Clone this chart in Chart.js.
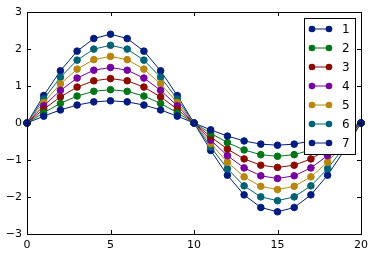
<!DOCTYPE html>
<html>
<head>
<meta charset="utf-8">
<script src="https://cdn.jsdelivr.net/npm/chart.js@4/dist/chart.umd.min.js"></script>
<style>
  html, body { margin: 0; padding: 0; background: #fff; }
  #wrap { width: 374px; height: 256px; }
</style>
</head>
<body>
<div id="wrap"><canvas id="chart"></canvas></div>
<script>
// x positions
var xs = [0,1,2,3,4,5,6,7,8,9,10,11,12,13,14,15,16,17,18,19,20];
// series
var s1 = [0,0.185,0.353,0.485,0.571,0.6,0.571,0.485,0.353,0.185,0,-0.185,-0.353,-0.485,-0.571,-0.6,-0.571,-0.485,-0.353,-0.185,0];
var s2 = [0,0.278,0.529,0.728,0.856,0.9,0.856,0.728,0.529,0.278,0,-0.278,-0.529,-0.728,-0.856,-0.9,-0.856,-0.728,-0.529,-0.278,0];
var s3 = [0,0.371,0.705,0.971,1.141,1.2,1.141,0.971,0.705,0.371,0,-0.371,-0.705,-0.971,-1.141,-1.2,-1.141,-0.971,-0.705,-0.371,0];
var s4 = [0,0.464,0.882,1.214,1.427,1.5,1.427,1.214,0.882,0.464,0,-0.464,-0.882,-1.214,-1.427,-1.5,-1.427,-1.214,-0.882,-0.464,0];
var s5 = [0,0.556,1.058,1.456,1.712,1.8,1.712,1.456,1.058,0.556,0,-0.556,-1.058,-1.456,-1.712,-1.8,-1.712,-1.456,-1.058,-0.556,0];
var s6 = [0,0.649,1.234,1.699,1.997,2.1,1.997,1.699,1.234,0.649,0,-0.649,-1.234,-1.699,-1.997,-2.1,-1.997,-1.699,-1.234,-0.649,0];
var s7 = [0,0.742,1.411,1.942,2.283,2.4,2.283,1.942,1.411,0.742,0,-0.742,-1.411,-1.942,-2.283,-2.4,-2.283,-1.942,-1.411,-0.742,0];
var labels = ['1','2','3','4','5','6','7'];
var colors = ['#001c7f','#017517','#8c0900','#7600a1','#b8860b','#006374','#001c7f'];

var series = [s1,s2,s3,s4,s5,s6,s7];
var FONT = 'DejaVu Sans';

var datasets = series.map(function(vals, i){
  return {
    label: labels[i],
    data: vals.map(function(v, j){ return {x: xs[j], y: v}; }),
    borderColor: colors[i],
    backgroundColor: colors[i],
    pointBackgroundColor: colors[i],
    pointBorderColor: colors[i],
    borderWidth: 1,
    pointRadius: 3.3,
    pointBorderWidth: 1,
    tension: 0,
    clip: false
  };
});

function minus(v){ return String(v).replace('-', '\u2212'); }

// frame, inward ticks on all four sides, legend box
var framePlugin = {
  id: 'frame',
  afterDatasetsDraw: function(chart){
    var ctx = chart.ctx, a = chart.chartArea;
    var sx = chart.scales.x, sy = chart.scales.y;
    ctx.save();
    ctx.strokeStyle = '#000';
    ctx.lineWidth = 1;
    ctx.beginPath();
    sx.ticks.forEach(function(t){
      var px = Math.round(sx.getPixelForValue(t.value)) + 0.5;
      ctx.moveTo(px, a.bottom); ctx.lineTo(px, a.bottom - 4);
      ctx.moveTo(px, a.top); ctx.lineTo(px, a.top + 4);
    });
    sy.ticks.forEach(function(t){
      var py = Math.round(sy.getPixelForValue(t.value)) + 0.5;
      ctx.moveTo(a.left, py); ctx.lineTo(a.left + 4, py);
      ctx.moveTo(a.right, py); ctx.lineTo(a.right - 4, py);
    });
    ctx.stroke();
    ctx.strokeRect(Math.round(a.left) + 0.5, Math.round(a.top) + 0.5,
                   Math.round(a.right - a.left), Math.round(a.bottom - a.top));
    ctx.restore();
  },
  afterDraw: function(chart){
    var ctx = chart.ctx;
    var bx = 304.5, by = 18.5, bw = 51, bh = 136;
    ctx.save();
    ctx.fillStyle = '#fff';
    ctx.fillRect(bx, by, bw, bh);
    ctx.strokeStyle = '#000';
    ctx.lineWidth = 1;
    ctx.strokeRect(bx, by, bw, bh);
    chart.data.datasets.forEach(function(ds, i){
      var y = 29 + i * 19;
      ctx.strokeStyle = ds.borderColor;
      ctx.beginPath();
      ctx.moveTo(312, y); ctx.lineTo(329, y);
      ctx.stroke();
      ctx.fillStyle = ds.backgroundColor;
      [312, 329].forEach(function(x){
        ctx.beginPath();
        ctx.arc(x, y, 3.3, 0, Math.PI * 2);
        ctx.fill();
      });
      ctx.fillStyle = '#000';
      ctx.font = '12px ' + FONT;
      ctx.textBaseline = 'middle';
      ctx.textAlign = 'left';
      ctx.fillText(ds.label, 342, y + 1);
    });
    ctx.restore();
  }
};

new Chart(document.getElementById('chart'), {
  type: 'line',
  data: { datasets: datasets },
  plugins: [framePlugin],
  options: {
    responsive: true,
    maintainAspectRatio: false,
    animation: false,
    layout: { padding: { left: 0, right: 13, top: 12, bottom: 0 } },
    plugins: { legend: { display: false }, tooltip: { enabled: false } },
    scales: {
      x: {
        type: 'linear', min: 0, max: 20,
        grid: { display: false, drawTicks: false },
        border: { display: false },
        afterFit: function(s){ s.height = 22; },
        ticks: { stepSize: 5, color: '#000', padding: 5, maxRotation: 0,
                 font: { family: FONT, size: 11 }, callback: minus }
      },
      y: {
        min: -3, max: 3,
        grid: { display: false, drawTicks: false },
        border: { display: false },
        afterFit: function(s){ s.width = 27; },
        ticks: { stepSize: 1, color: '#000', padding: 5,
                 font: { family: FONT, size: 11 }, callback: minus }
      }
    }
  }
});
</script>
</body>
</html>
